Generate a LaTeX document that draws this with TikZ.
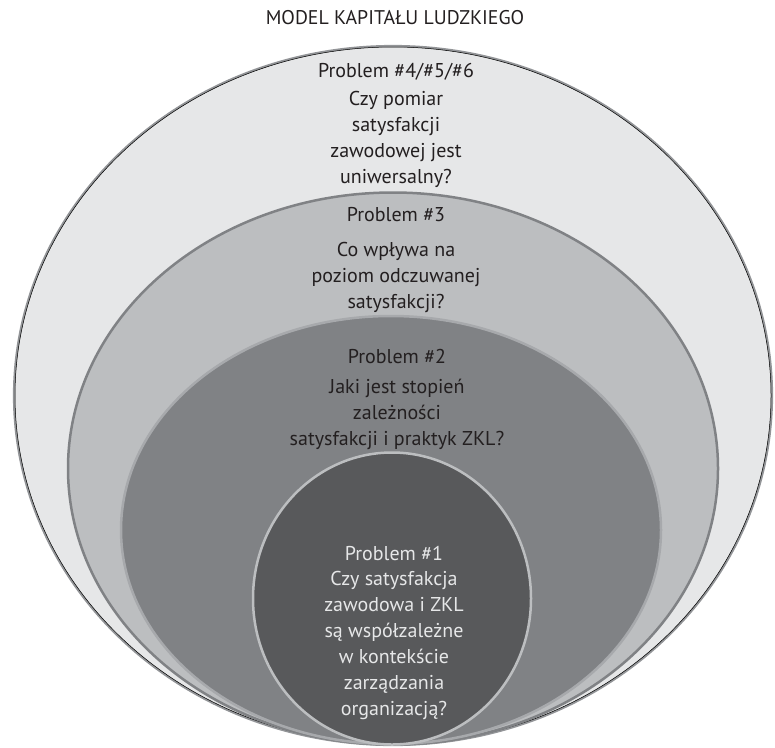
\documentclass[tikz,border=0pt]{standalone}
\usepackage{fontspec}
\setmainfont{PT Sans}
\definecolor{fillA}{HTML}{E6E7E8}
\definecolor{fillB}{HTML}{BCBEC0}
\definecolor{fillC}{HTML}{808285}
\definecolor{fillD}{HTML}{58595B}
\definecolor{edgeA}{HTML}{939598}
\definecolor{edgeB}{HTML}{808285}
\definecolor{edgeC}{HTML}{A7A9AC}
\definecolor{edgeD}{HTML}{BCBEC0}
\definecolor{ink}{HTML}{231F20}
\begin{document}
\begin{tikzpicture}[x=1pt,y=-1pt,
  lbl/.style={align=center,inner sep=0pt,font=\fontsize{20}{26}\selectfont,text=ink},
  lblw/.style={lbl,text=fillA},
  ttl/.style={inner sep=0pt,font=\fontsize{19.8}{22}\selectfont,text=ink}]
\useasboundingbox (0,0) rectangle (775,747);
% outer
\draw[edgeA,line width=2.2pt,fill=fillA] (393,395.5) ellipse [x radius=379,y radius=349.5];
\draw[black,line width=0.5pt] (393,395.5) ellipse [x radius=378,y radius=348.5];
% second
\draw[edgeB,line width=2.5pt,fill=fillB] (393,468.5) ellipse [x radius=325,y radius=276];
% third
\draw[edgeC,line width=2.5pt,fill=fillC] (391,530) ellipse [x radius=270,y radius=214];
% inner
\draw[edgeD,line width=2.5pt,fill=fillD] (392,598.5) ellipse [x radius=139,y radius=146];

\node[ttl] (title) at (395,18) {MODEL KAPITAŁU LUDZKIEGO};

\node[lbl] (h4) at (396,72) {Problem \#4/\#5/\#6};
\node[lbl] (q4) at (396,139) {Czy pomiar\\satysfakcji\\zawodowej jest\\uniwersalny?};

\node[lbl] (h3) at (396,215) {Problem \#3};
\node[lbl] (q3) at (396,277) {Co wpływa na\\poziom odczuwanej\\satysfakcji?};

\node[lbl] (h2) at (397,356) {Problem \#2};
\node[lbl] (q2) at (397,414) {Jaki jest stopień\\zależności\\satysfakcji i praktyk ZKL?};

\node[lblw] (h1) at (394,553) {Problem \#1};
\node[lblw] (q1) at (394,645) {Czy satysfakcja\\zawodowa i ZKL\\są współzależne\\w kontekście\\zarządzania\\organizacją?};
\end{tikzpicture}
\end{document}
